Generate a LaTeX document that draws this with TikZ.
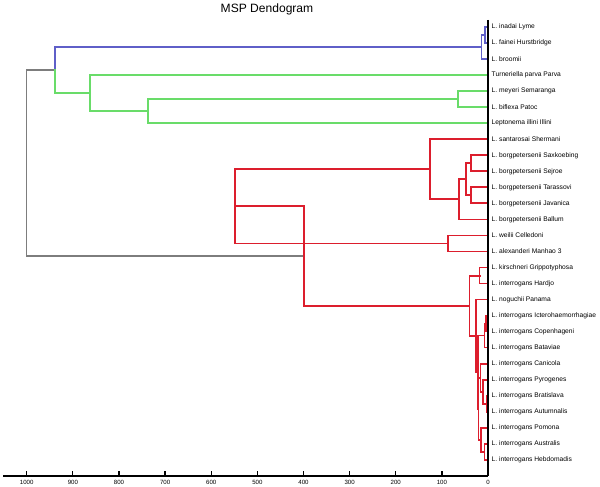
\documentclass[tikz,border=0pt]{standalone}
\usepackage{fontspec}
\setmainfont{Liberation Sans}
\usetikzlibrary{positioning}

\definecolor{clblue}{RGB}{95,95,200}
\definecolor{clgreen}{RGB}{105,220,105}
\definecolor{clred}{RGB}{220,30,45}
\definecolor{clgray}{RGB}{125,125,125}

\tikzset{
  leaf/.style={anchor=west, inner xsep=3pt, inner ysep=0pt,
    font=\fontsize{5.7}{6}\selectfont},
  ticklabel/.style={inner sep=0pt, font=\fontsize{5.2}{6}\selectfont},
  link/.style={line width=1.4pt, line cap=rect},
  bluelink/.style={link, draw=clblue},
  greenlink/.style={link, line width=1.5pt, draw=clgreen},
  redlink/.style={link, line width=1.6pt, draw=clred},
  graylink/.style={line width=1.1pt, draw=clgray},
  axisline/.style={line width=1.1pt, draw=black}
}

\newcommand\leaflist{
    lyme/{L. inadai Lyme}, fainei/{L. fainei Hurstbridge}, broomii/{L. broomii},
    turneriella/{Turneriella parva Parva}, meyeri/{L. meyeri Semaranga},
    biflexa/{L. biflexa Patoc}, leptonema/{Leptonema illini Illini},
    santarosai/{L. santarosai Shermani}, saxkoebing/{L. borgpetersenii Saxkoebing},
    sejroe/{L. borgpetersenii Sejroe}, tarassovi/{L. borgpetersenii Tarassovi},
    javanica/{L. borgpetersenii Javanica}, ballum/{L. borgpetersenii Ballum},
    weilii/{L. weilii Celledoni}, alexanderi/{L. alexanderi Manhao 3},
    kirschneri/{L. kirschneri Grippotyphosa}, hardjo/{L. interrogans Hardjo},
    noguchii/{L. noguchii Panama}, ictero/{L. interrogans Icterohaemorrhagiae},
    copenhageni/{L. interrogans Copenhageni}, bataviae/{L. interrogans Bataviae},
    canicola/{L. interrogans Canicola}, pyrogenes/{L. interrogans Pyrogenes},
    bratislava/{L. interrogans Bratislava}, autumnalis/{L. interrogans Autumnalis},
    pomona/{L. interrogans Pomona}, australis/{L. interrogans Australis},
    hebdomadis/{L. interrogans Hebdomadis}}

\begin{document}
\begin{tikzpicture}[x=-0.013839cm, y=-0.03cm]
\useasboundingbox (1057.9,0) rectangle (-242.8,487);

% Leaf ends (value 0)
\foreach \name/\txt [count=\i from 0] in \leaflist
  \coordinate (\name) at (0,{27+16.04*\i});

% Joins (distance, height)
\coordinate (b1) at (6,35.02);
\coordinate (b2) at (14,47.05);
\coordinate (g1) at (65,99.18);
\coordinate (g2) at (737,111.21);
\coordinate (g3) at (863,93.17);
\coordinate (bg) at (939,70.11);
\coordinate (r1) at (37,163.34);
\coordinate (r2) at (37,195.42);
\coordinate (r3) at (48,179.38);
\coordinate (r4) at (63,199.43);
\coordinate (r5) at (126,169.36);
\coordinate (r6) at (87,243.54);
\coordinate (r7) at (548,206.45);
\coordinate (a1) at (18,275.62);
\coordinate (i1) at (4,323.74);
\coordinate (i2) at (8,335.77);
\coordinate (p1) at (3,403.94);
\coordinate (p2) at (11,391.91);
\coordinate (c1) at (16,377.88);
\coordinate (h1) at (8,452.06);
\coordinate (h2) at (15,440.03);
\coordinate (c2) at (20,408.95);
\coordinate (f1) at (22,372.36);
\coordinate (d1) at (26,336.02);
\coordinate (l1) at (40,305.82);
\coordinate (rr) at (399,256.14);
\coordinate (root) at (1000,163.12);

% Links, one path per cluster
\draw[graylink] foreach \p/\c in {root/bg, root/rr} {(\p) |- (\c)};
\draw[bluelink] foreach \p/\c in {bg/b2, b2/b1, b2/broomii, b1/lyme, b1/fainei}
  {(\p) |- (\c)};
\draw[greenlink] foreach \p/\c in {bg/g3, g3/turneriella, g3/g2, g2/g1,
    g2/leptonema, g1/meyeri, g1/biflexa} {(\p) |- (\c)};
\draw[redlink] foreach \p/\c in {rr/r7, rr/l1, l1/a1, l1/d1, r7/r5, r7/r6,
    r5/santarosai, r5/r4, r4/r3, r4/ballum, r3/r1, r3/r2, r1/saxkoebing,
    r1/sejroe, r2/tarassovi, r2/javanica, r6/weilii, r6/alexanderi}
  {(\p) |- (\c)};
\draw[redlink, line width=1.2pt] foreach \p/\c in {a1/kirschneri, a1/hardjo,
    d1/noguchii, d1/f1, f1/i2, f1/c2, i2/i1, i2/bataviae, i1/ictero,
    i1/copenhageni, c2/c1, c2/h2, c1/canicola, c1/p2, p2/pyrogenes, p2/p1,
    p1/bratislava, p1/autumnalis, h2/pomona, h2/h1, h1/australis,
    h1/hebdomadis} {(\p) |- (\c)};

% Leaf line and axis
\draw[line width=0.9pt, draw=black] (0,20) -- (0,476);
\draw[axisline] (1051,476) -- (0,476);
\foreach \v in {0,100,...,1000}
  \draw[axisline] (\v,476) -- (\v,471);

% Texts
\node[font=\fontsize{10.3}{12}\selectfont] (title) at (479.1,9) {MSP Dendogram};
\foreach \name/\txt in \leaflist
  \node[leaf] (\name-txt) at (\name) {\txt};
\foreach \v in {0,100,...,1000}
  \node[ticklabel] (tick\v) at (\v,482.7) {\v};
\end{tikzpicture}
\end{document}
